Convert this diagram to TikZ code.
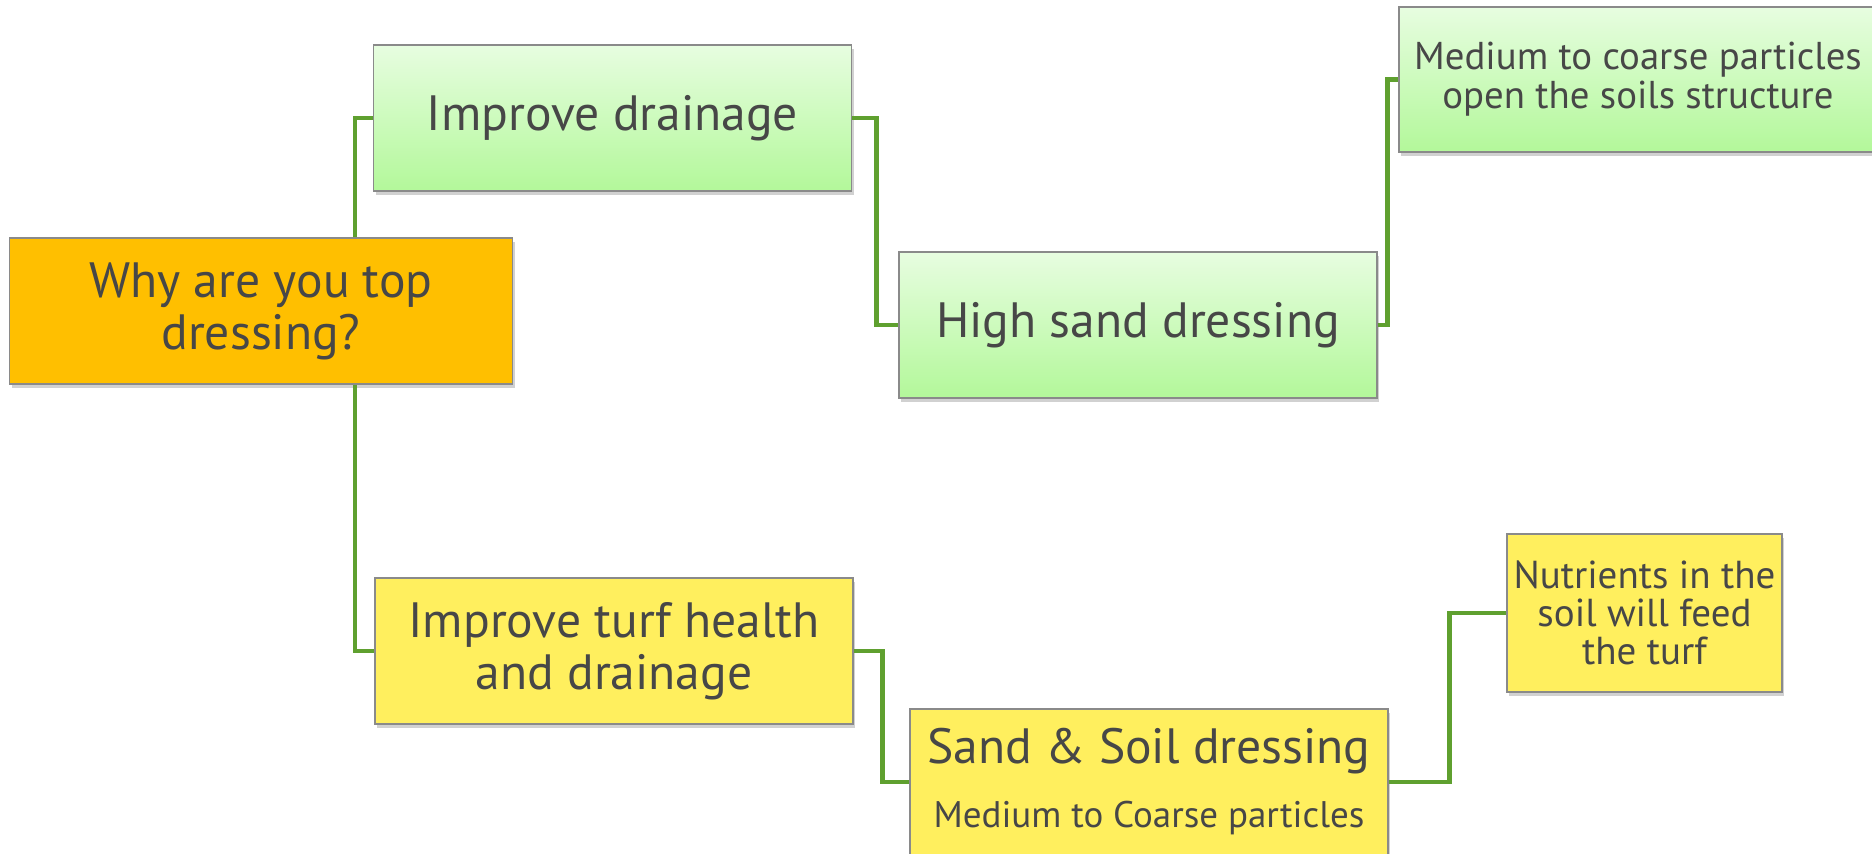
\documentclass[tikz,border=0pt]{standalone}
\usepackage{fontspec}
\setmainfont{PT Sans}
\usetikzlibrary{shadows}
\definecolor{txt}{HTML}{474747}
\definecolor{rootfill}{HTML}{FFBF00}
\definecolor{gtop}{HTML}{E7FDE0}
\definecolor{gbot}{HTML}{B3F89A}
\definecolor{yfill}{HTML}{FFEF5E}
\definecolor{bord}{HTML}{8A8A8A}
\definecolor{conncol}{HTML}{5FA02F}
\tikzset{
  box/.style={draw=bord, line width=0.7pt, inner sep=0pt, minimum width=239pt,
    minimum height=73pt, align=center, text=txt,
    font=\fontsize{24.8}{26}\selectfont,
    drop shadow={shadow xshift=1pt, shadow yshift=-2pt, opacity=0.3, fill=black!60}},
  gbox/.style={box, top color=gtop, bottom color=gbot},
  ybox/.style={box, fill=yfill},
  smalltext/.style={font=\fontsize{19.4}{19.4}\selectfont},
  conn/.style={draw=conncol, line width=2.4pt, line join=miter}
}
\begin{document}
\begin{tikzpicture}[x=0.5pt,y=-0.5pt]
\useasboundingbox (0,0) rectangle (1872,854);
\node[box, fill=rootfill, minimum width=251.5pt] (root) at (261,311) {Why are you top\\dressing?};
\node[gbox] (drain) at (612.5,118) {Improve drainage};
\node[gbox] (high) at (1138,325) {High sand dressing};
\node[gbox, smalltext, minimum height=72.5pt] (med) at (1638,79.5) {Medium to coarse particles\\open the soils structure};
\node[ybox] (turf) at (614,651) {Improve turf health\\and drainage};
\node[ybox] (sand) at (1149,782) {Sand \& Soil dressing\\[6pt]{\fontsize{18.5}{19}\selectfont Medium to Coarse particles}};
\node[ybox, font=\fontsize{19.5}{19}\selectfont, minimum width=137.5pt, minimum height=79pt] (nut) at (1644.5,613) {Nutrients in the\\soil will feed\\the turf};
\coordinate (j1) at (355,0);
\draw[conn] (j1 |- root.north) |- (drain.west);
\draw[conn] (j1 |- root.south) |- (turf.west);
\draw[conn] (drain.east) -- ++(24,0) |- (high.west);
\draw[conn] (high.east) -- ++(10,0) |- (med.west);
\draw[conn] (turf.east) -- ++(29,0) |- (sand.west);
\draw[conn] (sand.east) -- ++(61,0) |- (nut.west);
\end{tikzpicture}
\end{document}
